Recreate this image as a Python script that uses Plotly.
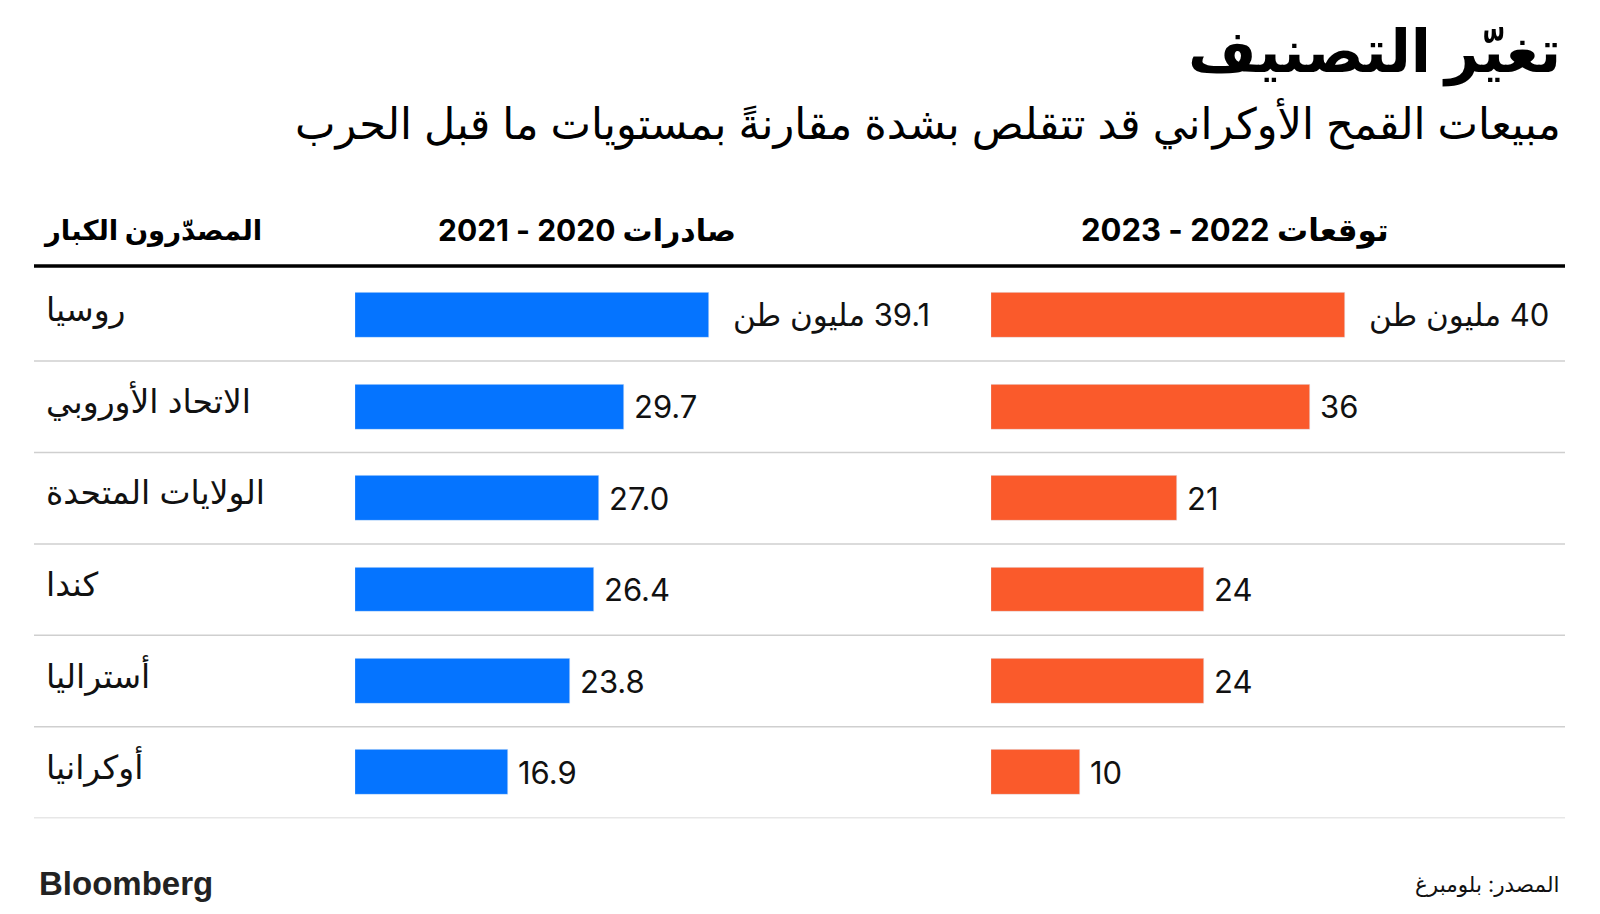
import plotly.graph_objects as go

countries = ["روسيا", "الاتحاد الأوروبي", "الولايات المتحدة", "كندا", "أستراليا", "أوكرانيا"]
exports_2020_21 = [39.1, 29.7, 27.0, 26.4, 23.8, 16.9]
forecast_2022_23 = [40, 36, 21, 24, 24, 10]
exports_labels = ["39.1 مليون طن", "29.7", "27.0", "26.4", "23.8", "16.9"]
forecast_labels = ["40 مليون طن", "36", "21", "24", "24", "10"]

title = "تغيّر التصنيف"
subtitle = "مبيعات القمح الأوكراني قد تتقلص بشدة مقارنةً بمستويات ما قبل الحرب"
header_countries = "المصدّرون الكبار"
header_exports = "صادرات 2020 - 2021"
header_forecast = "توقعات 2022 - 2023"
source = "المصدر: بلومبرغ"
brand = "Bloomberg"

BLUE = "#0574ff"
ORANGE = "#fa5a2b"
FONT = "Inter, DejaVu Sans, sans-serif"
RLE, PDF = "\u202b", "\u202c"

W, H = 1600, 914
def px(x):
    return x / W
def py(y):
    return (H - y) / H

fig = go.Figure()
fig.add_trace(go.Bar(x=exports_2020_21, y=countries, orientation="h", marker_color=BLUE,
                     width=0.49, xaxis="x", yaxis="y", hoverinfo="x+y"))
fig.add_trace(go.Bar(x=forecast_2022_23, y=countries, orientation="h", marker_color=ORANGE,
                     width=0.49, xaxis="x2", yaxis="y", hoverinfo="x+y"))

ann = []
for i, (c, v1, v2, l1, l2) in enumerate(zip(countries, exports_2020_21, forecast_2022_23,
                                             exports_labels, forecast_labels)):
    gap = 22 if i == 0 else 8
    ann.append(dict(x=v1, y=c, xref="x", yref="y", text=RLE + l1 + PDF, showarrow=False,
                    xanchor="left", yanchor="middle", xshift=gap,
                    font=dict(family=FONT, size=31, color="#111")))
    ann.append(dict(x=v2, y=c, xref="x2", yref="y", text=RLE + l2 + PDF, showarrow=False,
                    xanchor="left", yanchor="middle", xshift=gap,
                    font=dict(family=FONT, size=31, color="#111")))
    ann.append(dict(x=px(44), y=c, xref="paper", yref="y", text=c, showarrow=False,
                    xanchor="left", yanchor="middle", yshift=6,
                    font=dict(family=FONT, size=33, color="#111")))

ann += [
    dict(x=px(1563), y=py(51), xref="paper", yref="paper", text="<b>" + title + "</b>",
         showarrow=False, xanchor="right", yanchor="middle",
         font=dict(family=FONT, size=59, color="#000")),
    dict(x=px(1563), y=py(124), xref="paper", yref="paper", text=subtitle,
         showarrow=False, xanchor="right", yanchor="middle",
         font=dict(family=FONT, size=43, color="#000")),
    dict(x=px(264), y=py(230), xref="paper", yref="paper", text="<b>" + header_countries + "</b>",
         showarrow=False, xanchor="right", yanchor="middle",
         font=dict(family=FONT, size=27.5, color="#000")),
    dict(x=px(587), y=py(230), xref="paper", yref="paper", text="<b>" + RLE + header_exports + PDF + "</b>",
         showarrow=False, xanchor="center", yanchor="middle",
         font=dict(family=FONT, size=30, color="#000")),
    dict(x=px(1235), y=py(230), xref="paper", yref="paper", text="<b>" + RLE + header_forecast + PDF + "</b>",
         showarrow=False, xanchor="center", yanchor="middle",
         font=dict(family=FONT, size=31, color="#000")),
    dict(x=px(37), y=py(883), xref="paper", yref="paper", text="<b>" + brand + "</b>",
         showarrow=False, xanchor="left", yanchor="middle",
         font=dict(family="Liberation Sans, Arial, sans-serif", size=33, color="#222")),
    dict(x=px(1561), y=py(884), xref="paper", yref="paper", text=source,
         showarrow=False, xanchor="right", yanchor="middle",
         font=dict(family=FONT, size=21.5, color="#111")),
]

shapes = [dict(type="line", xref="paper", yref="paper", x0=px(34), x1=px(1565),
               y0=py(266), y1=py(266), line=dict(color="#000", width=3.5))]
for i in range(len(countries)):
    shapes.append(dict(type="line", xref="paper", yref="y", x0=px(34), x1=px(1565),
                       y0=i + 0.5, y1=i + 0.5, line=dict(color="#cfcfcf", width=1.5)))

fig.update_layout(
    width=W, height=H, margin=dict(l=0, r=0, t=0, b=0),
    paper_bgcolor="white", plot_bgcolor="white", showlegend=False,
    annotations=ann, shapes=shapes,
    xaxis=dict(domain=[px(355), px(355 + 452.5)], range=[0, 50], visible=False, fixedrange=True),
    xaxis2=dict(domain=[px(991), px(991 + 443)], range=[0, 50], visible=False, fixedrange=True),
    yaxis=dict(domain=[py(818.2), py(269.6)], range=[5.5, -0.5], visible=False,
               categoryorder="array", categoryarray=countries, fixedrange=True),
    bargap=0,
)

fig.write_html("out.html")
